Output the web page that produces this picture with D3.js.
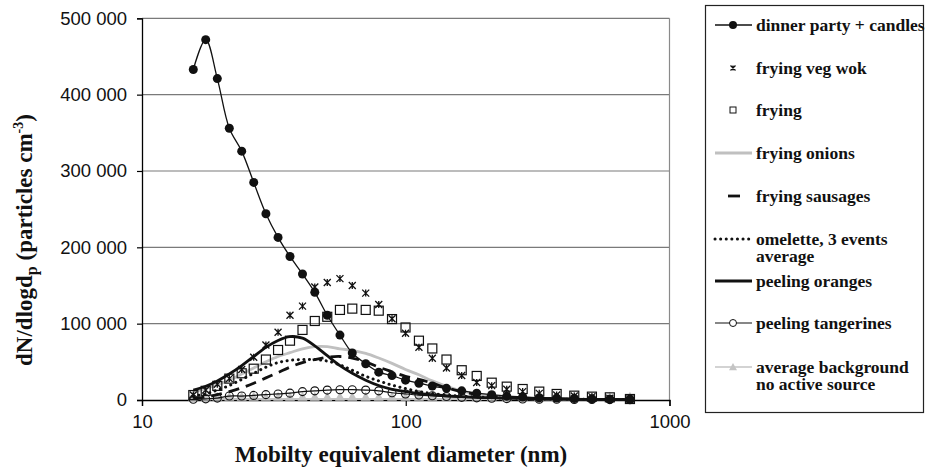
<!DOCTYPE html>
<html><head><meta charset="utf-8">
<script src="https://cdn.jsdelivr.net/npm/d3@7"></script>
<style>body{margin:0;background:#fff}svg{display:block}
.serif{font-family:"Liberation Serif","Times New Roman",Times,"DejaVu Serif","Noto Serif",serif;font-weight:bold}
</style>
</head><body>
<svg id="c" width="925" height="472"></svg>
<script>
// Diameters (nm) of the size channels
const diameters = [15.65,17.44,19.3,21.43,23.88,26.52,29.5,32.8,36.4,40.6,45.2,50.4,56.3,62.7,70.5,79.0,88.7,99.8,112.2,126.1,142.7,163,185.8,211.8,241.5,277.5,320.8,373.4,435.5,508,594,708];

const dinnerParty = [433000,472000,421000,356000,326000,285000,244000,213000,188000,165000,141000,111000,85000,61500,47500,36500,32000,26000,22000,18300,15300,12000,9000,7000,5000,4000,3000,2500,2000,1500,1000,1000];
const fryingVegWok = [6500,13000,20600,28000,40000,56000,72000,88700,111000,123000,148000,154000,159000,150000,140000,125000,106500,87500,69000,54600,42000,32000,23000,18800,14000,11000,8700,6500,5200,4400,2200,1500];
const frying = [6500,12000,18500,28000,35000,41000,53000,65500,77700,91800,103500,109000,118000,119700,118000,117000,106000,95000,77700,67500,53000,39000,31500,22700,17500,14400,11000,7900,5700,4400,3500,1300];
const fryingOnions = [11000,15000,20000,26000,34000,42000,50000,57000,62000,67000,70000,70000,67000,65000,61000,55000,48000,40000,33000,25000,18000,12000,8000,5000,3000,2000,1500,1000,1000,800,600,500];
const fryingSausages = [2000,4000,7000,11000,16000,22000,29000,36000,43000,49000,53000,56000,57000,55000,50000,43000,37000,31000,27000,22000,16000,11000,7000,5000,3500,2500,2000,1500,1000,800,600,500];
const omelette = [5000,8000,13000,19000,27000,35000,43000,49000,52000,53000,53000,51000,46000,39000,31000,25000,19500,15000,11000,8500,6500,5000,4000,3000,2500,2000,1500,1200,1000,800,600,500];
const peelingOranges = [13000,18000,25000,34000,45000,57000,69000,78000,83000,81000,71000,58000,45000,35000,26000,19000,14000,11000,8500,7000,5500,4500,3500,3000,2500,2000,1500,1200,1000,800,600,500];
const peelingTangerines = [1000,1500,2500,5200,5200,6000,7000,7900,9000,11000,12000,13000,13500,13500,13000,12000,9500,7900,6500,5500,4500,3500,2800,2200,1800,1400,1100,900,700,600,500,400];
const background = [1500,1500,1500,1500,1500,1500,1500,1500,1500,1500,1500,1500,1500,1500,1500,1500,1500,1500,1500,1500,1500,1500,1500,1500,1500,1500,1500,1500,1500,1500,1500,1500];

const yTicks = [0,100000,200000,300000,400000,500000];
const xTicks = [10,100,1000];
const legendLabels = [["dinner party + candles"],["frying veg wok"],["frying"],["frying onions"],["frying sausages"],["omelette,  3 events","average"],["peeling oranges"],["peeling tangerines"],["average background","no active source"]];

const svg = d3.select("#c");
const L = 142, R = 669.5, T = 18.3, B = 400;
const x = d3.scaleLog().domain([10,1000]).range([L,R]);
const y = d3.scaleLinear().domain([0,500000]).range([B,T]);
const fmt = v => d3.format(",")(v).replace(/,/g," ");

// gridlines
svg.append("g").selectAll("line").data(yTicks.filter(v=>v>0)).join("line")
  .attr("x1",L).attr("x2",R).attr("y1",d=>y(d)).attr("y2",d=>y(d))
  .attr("stroke","#7a7a7a").attr("stroke-width",1.2);
// right border
svg.append("line").attr("x1",R).attr("x2",R).attr("y1",T).attr("y2",B).attr("stroke","#8a8a8a").attr("stroke-width",1.2);

// axes
const yAxis = svg.append("g").attr("transform",`translate(${L},0)`)
  .call(d3.axisLeft(y).tickValues(yTicks).tickFormat(fmt).tickSize(5).tickPadding(10));
const xAxis = svg.append("g").attr("transform",`translate(0,${B})`)
  .call(d3.axisBottom(x).tickValues(xTicks).tickFormat(d3.format("d")).tickSize(6).tickPadding(9));
[yAxis,xAxis].forEach(g=>{
  g.select(".domain").attr("stroke","#000").attr("stroke-width",1.3);
  g.selectAll(".tick line").attr("stroke","#000").attr("stroke-width",1.2);
  g.selectAll("text").attr("font-family","'Liberation Sans', Arial, sans-serif").attr("font-size",18.5).attr("fill","#111");
});

const pts = arr => arr.map((v,i)=>[diameters[i],v]);
const line = d3.line().x(d=>x(d[0])).y(d=>y(d[1])).curve(d3.curveCatmullRom.alpha(0.5));

const plot = svg.append("g");
function drawLine(arr, stroke, width, dash, cap){
  const p = plot.append("path").datum(pts(arr)).attr("d",line).attr("fill","none")
    .attr("stroke",stroke).attr("stroke-width",width);
  if(dash) p.attr("stroke-dasharray",dash);
  if(cap) p.attr("stroke-linecap",cap);
}
function star(g, cx, cy, s){
  g.append("path").attr("d",`M${cx-s},${cy-s}L${cx+s},${cy+s}M${cx-s},${cy+s}L${cx+s},${cy-s}M${cx},${cy-s}L${cx},${cy+s}`)
   .attr("stroke","#111").attr("stroke-width",1.3).attr("fill","none");
}
function tri(g, cx, cy, s, fill){
  g.append("path").attr("d",`M${cx},${cy-s}L${cx+s},${cy+s*0.8}L${cx-s},${cy+s*0.8}Z`).attr("fill",fill);
}

// background
drawLine(background,"#c4c4c4",1.5);
pts(background).forEach(d=>tri(plot,x(d[0]),y(d[1])-2,5,"#c4c4c4"));
// tangerines
drawLine(peelingTangerines,"#111",1.2);
plot.append("g").selectAll("circle").data(pts(peelingTangerines)).join("circle")
  .attr("cx",d=>x(d[0])).attr("cy",d=>y(d[1])).attr("r",4).attr("fill","none").attr("stroke","#111").attr("stroke-width",1.1);
// onions
drawLine(fryingOnions,"#c0c0c0",2.8);
// sausages
drawLine(fryingSausages,"#111",2.8,"11,7");
// omelette
drawLine(omelette,"#111",3,"0.1,5.5","round");
// oranges
drawLine(peelingOranges,"#111",2.8);
// wok
pts(fryingVegWok).forEach(d=>star(plot,x(d[0]),y(d[1]),3.5));
// frying
plot.append("g").selectAll("rect").data(pts(frying)).join("rect")
  .attr("x",d=>x(d[0])-4.5).attr("y",d=>y(d[1])-4.5).attr("width",9).attr("height",9)
  .attr("fill","none").attr("stroke","#111").attr("stroke-width",1.2);
// dinner party
drawLine(dinnerParty,"#111",1.3);
plot.append("g").selectAll("circle").data(pts(dinnerParty)).join("circle")
  .attr("cx",d=>x(d[0])).attr("cy",d=>y(d[1])).attr("r",4.5).attr("fill","#111");

// axis titles
const yt = svg.append("text").attr("class","serif").attr("transform","translate(32,240) rotate(-90)").attr("text-anchor","middle")
  .attr("font-size",23).attr("fill","#111");
yt.append("tspan").text("dN/dlogd");
yt.append("tspan").text("p").attr("font-size",16).attr("dy",5);
yt.append("tspan").text(" (particles cm").attr("dy",-5);
yt.append("tspan").text("-3").attr("font-size",14).attr("dy",-9);
yt.append("tspan").text(")").attr("dy",9);
svg.append("text").attr("class","serif").attr("x",401).attr("y",462).attr("text-anchor","middle")
  .attr("font-size",23).attr("fill","#111")
  .text("Mobilty equivalent diameter (nm)");

// legend
const lg = svg.append("g");
lg.append("rect").attr("x",705.5).attr("y",5.5).attr("width",218).attr("height",407).attr("fill","none").attr("stroke","#222").attr("stroke-width",1.2);
const rowY = [25,68,110,153,196,239,281,323,367];
const sx1=715, sx2=752, sc=733;
legendLabels.forEach((lab,i)=>{
  const cy = rowY[i];
  const t = lg.append("text").attr("class","serif").attr("x",756).attr("y",cy+5.5).attr("font-size",17.5).attr("fill","#111");
  lab.forEach((s,j)=>t.append("tspan").attr("x",756).attr("dy",j?17.5:0).text(s));
  const ln = (stroke,w,dash,cap)=>{const l=lg.append("line").attr("x1",sx1).attr("x2",sx2).attr("y1",cy).attr("y2",cy).attr("stroke",stroke).attr("stroke-width",w); if(dash) l.attr("stroke-dasharray",dash); if(cap) l.attr("stroke-linecap",cap);};
  if(i===0){ln("#111",1.3); lg.append("circle").attr("cx",sc).attr("cy",cy).attr("r",4).attr("fill","#111");}
  if(i===1){star(lg,sc,cy,2.5);}
  if(i===2){lg.append("rect").attr("x",sc-3).attr("y",cy-3).attr("width",6).attr("height",6).attr("fill","none").attr("stroke","#111");}
  if(i===3){ln("#c0c0c0",2.8);}
  if(i===4){lg.append("line").attr("x1",sc-5).attr("x2",sc+7).attr("y1",cy).attr("y2",cy).attr("stroke","#111").attr("stroke-width",2.8);}
  if(i===5){ln("#111",3,"0.1,5.5","round");}
  if(i===6){ln("#111",2.8);}
  if(i===7){ln("#111",1.2); lg.append("circle").attr("cx",sc).attr("cy",cy).attr("r",3.5).attr("fill","#fff").attr("stroke","#111");}
  if(i===8){ln("#c4c4c4",1.5); tri(lg,sc,cy,4,"#c4c4c4");}
});
</script>
</body></html>
